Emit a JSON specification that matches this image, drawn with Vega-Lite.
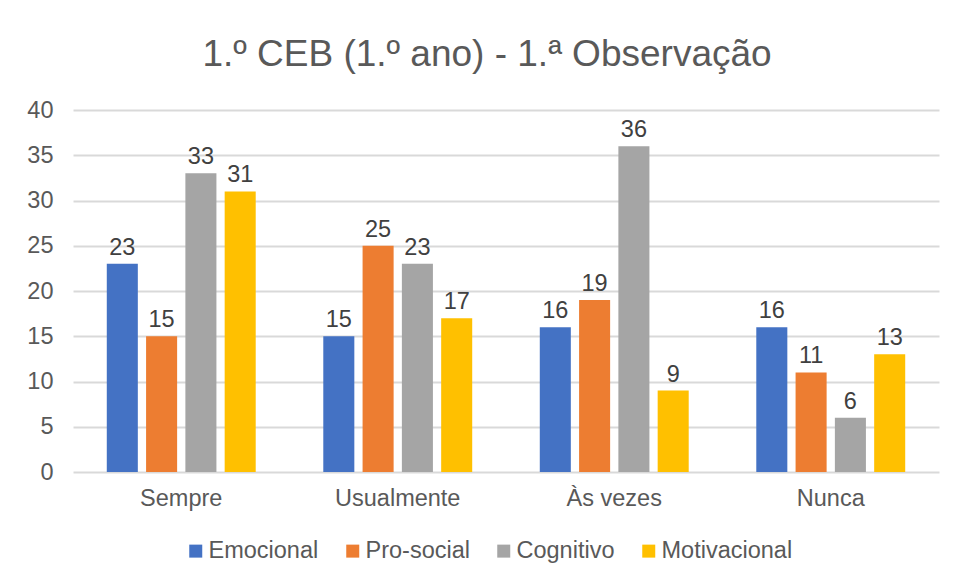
{
  "$schema": "https://vega.github.io/schema/vega-lite/v6.json",
  "autosize": {"type": "none"},
  "width": 866,
  "height": 362,
  "padding": {"left": 73, "top": 110, "right": 15, "bottom": 109},
  "background": "white",
  "title": {
    "text": "1.º CEB (1.º ano) - 1.ª Observação",
    "font": "Liberation Sans",
    "fontSize": 37,
    "fontWeight": "normal",
    "color": "#595959",
    "anchor": "middle",
    "frame": "group",
    "dx": -19,
    "offset": 24
  },
  "data": {
    "values": [
      {"cat": "Sempre", "serie": "Emocional", "v": 23},
      {"cat": "Sempre", "serie": "Pro-social", "v": 15},
      {"cat": "Sempre", "serie": "Cognitivo", "v": 33},
      {"cat": "Sempre", "serie": "Motivacional", "v": 31},
      {"cat": "Usualmente", "serie": "Emocional", "v": 15},
      {"cat": "Usualmente", "serie": "Pro-social", "v": 25},
      {"cat": "Usualmente", "serie": "Cognitivo", "v": 23},
      {"cat": "Usualmente", "serie": "Motivacional", "v": 17},
      {"cat": "Às vezes", "serie": "Emocional", "v": 16},
      {"cat": "Às vezes", "serie": "Pro-social", "v": 19},
      {"cat": "Às vezes", "serie": "Cognitivo", "v": 36},
      {"cat": "Às vezes", "serie": "Motivacional", "v": 9},
      {"cat": "Nunca", "serie": "Emocional", "v": 16},
      {"cat": "Nunca", "serie": "Pro-social", "v": 11},
      {"cat": "Nunca", "serie": "Cognitivo", "v": 6},
      {"cat": "Nunca", "serie": "Motivacional", "v": 13}
    ]
  },
  "encoding": {
    "x": {
      "field": "cat", "type": "nominal",
      "sort": ["Sempre", "Usualmente", "Às vezes", "Nunca"],
      "scale": {"paddingInner": 0.274, "paddingOuter": 0.137},
      "axis": {
        "title": null, "labelAngle": 0, "ticks": false, "domain": false,
        "labelFont": "Liberation Sans", "labelFontSize": 23.5, "labelColor": "#595959",
        "labelPadding": 14
      }
    },
    "xOffset": {
      "field": "serie", "type": "nominal",
      "sort": ["Emocional", "Pro-social", "Cognitivo", "Motivacional"],
      "scale": {"paddingInner": 0.21, "paddingOuter": 0.105}
    },
    "y": {
      "field": "v", "type": "quantitative",
      "scale": {"domain": [0, 40], "nice": false},
      "axis": {
        "title": null, "values": [0, 5, 10, 15, 20, 25, 30, 35, 40],
        "ticks": false, "domain": false,
        "labelFont": "Liberation Sans", "labelFontSize": 23.5, "labelColor": "#595959",
        "labelPadding": 20,
        "gridColor": "#D9D9D9", "gridWidth": 2
      }
    }
  },
  "layer": [
    {
      "mark": {"type": "bar"},
      "encoding": {
        "color": {
          "field": "serie", "type": "nominal",
          "sort": ["Emocional", "Pro-social", "Cognitivo", "Motivacional"],
          "scale": {
            "domain": ["Emocional", "Pro-social", "Cognitivo", "Motivacional"],
            "range": ["#4472C4", "#ED7D31", "#A5A5A5", "#FFC000"]
          },
          "legend": {
            "title": null,
            "orient": "none",
            "direction": "horizontal",
            "legendX": 111,
            "legendY": 429,
            "symbolType": "square",
            "symbolSize": 169,
            "symbolStrokeWidth": 0,
            "labelFont": "Liberation Sans",
            "labelFontSize": 23.5,
            "labelColor": "#595959",
            "labelOffset": 1,
            "columnPadding": 22,
            "labelLimit": 300
          }
        }
      }
    },
    {
      "mark": {
        "type": "text", "baseline": "alphabetic", "dy": -9,
        "font": "Liberation Sans", "fontSize": 23.5, "color": "#404040"
      },
      "encoding": {
        "text": {"field": "v", "type": "quantitative"}
      }
    }
  ],
  "config": {
    "view": {"stroke": null}
  }
}
